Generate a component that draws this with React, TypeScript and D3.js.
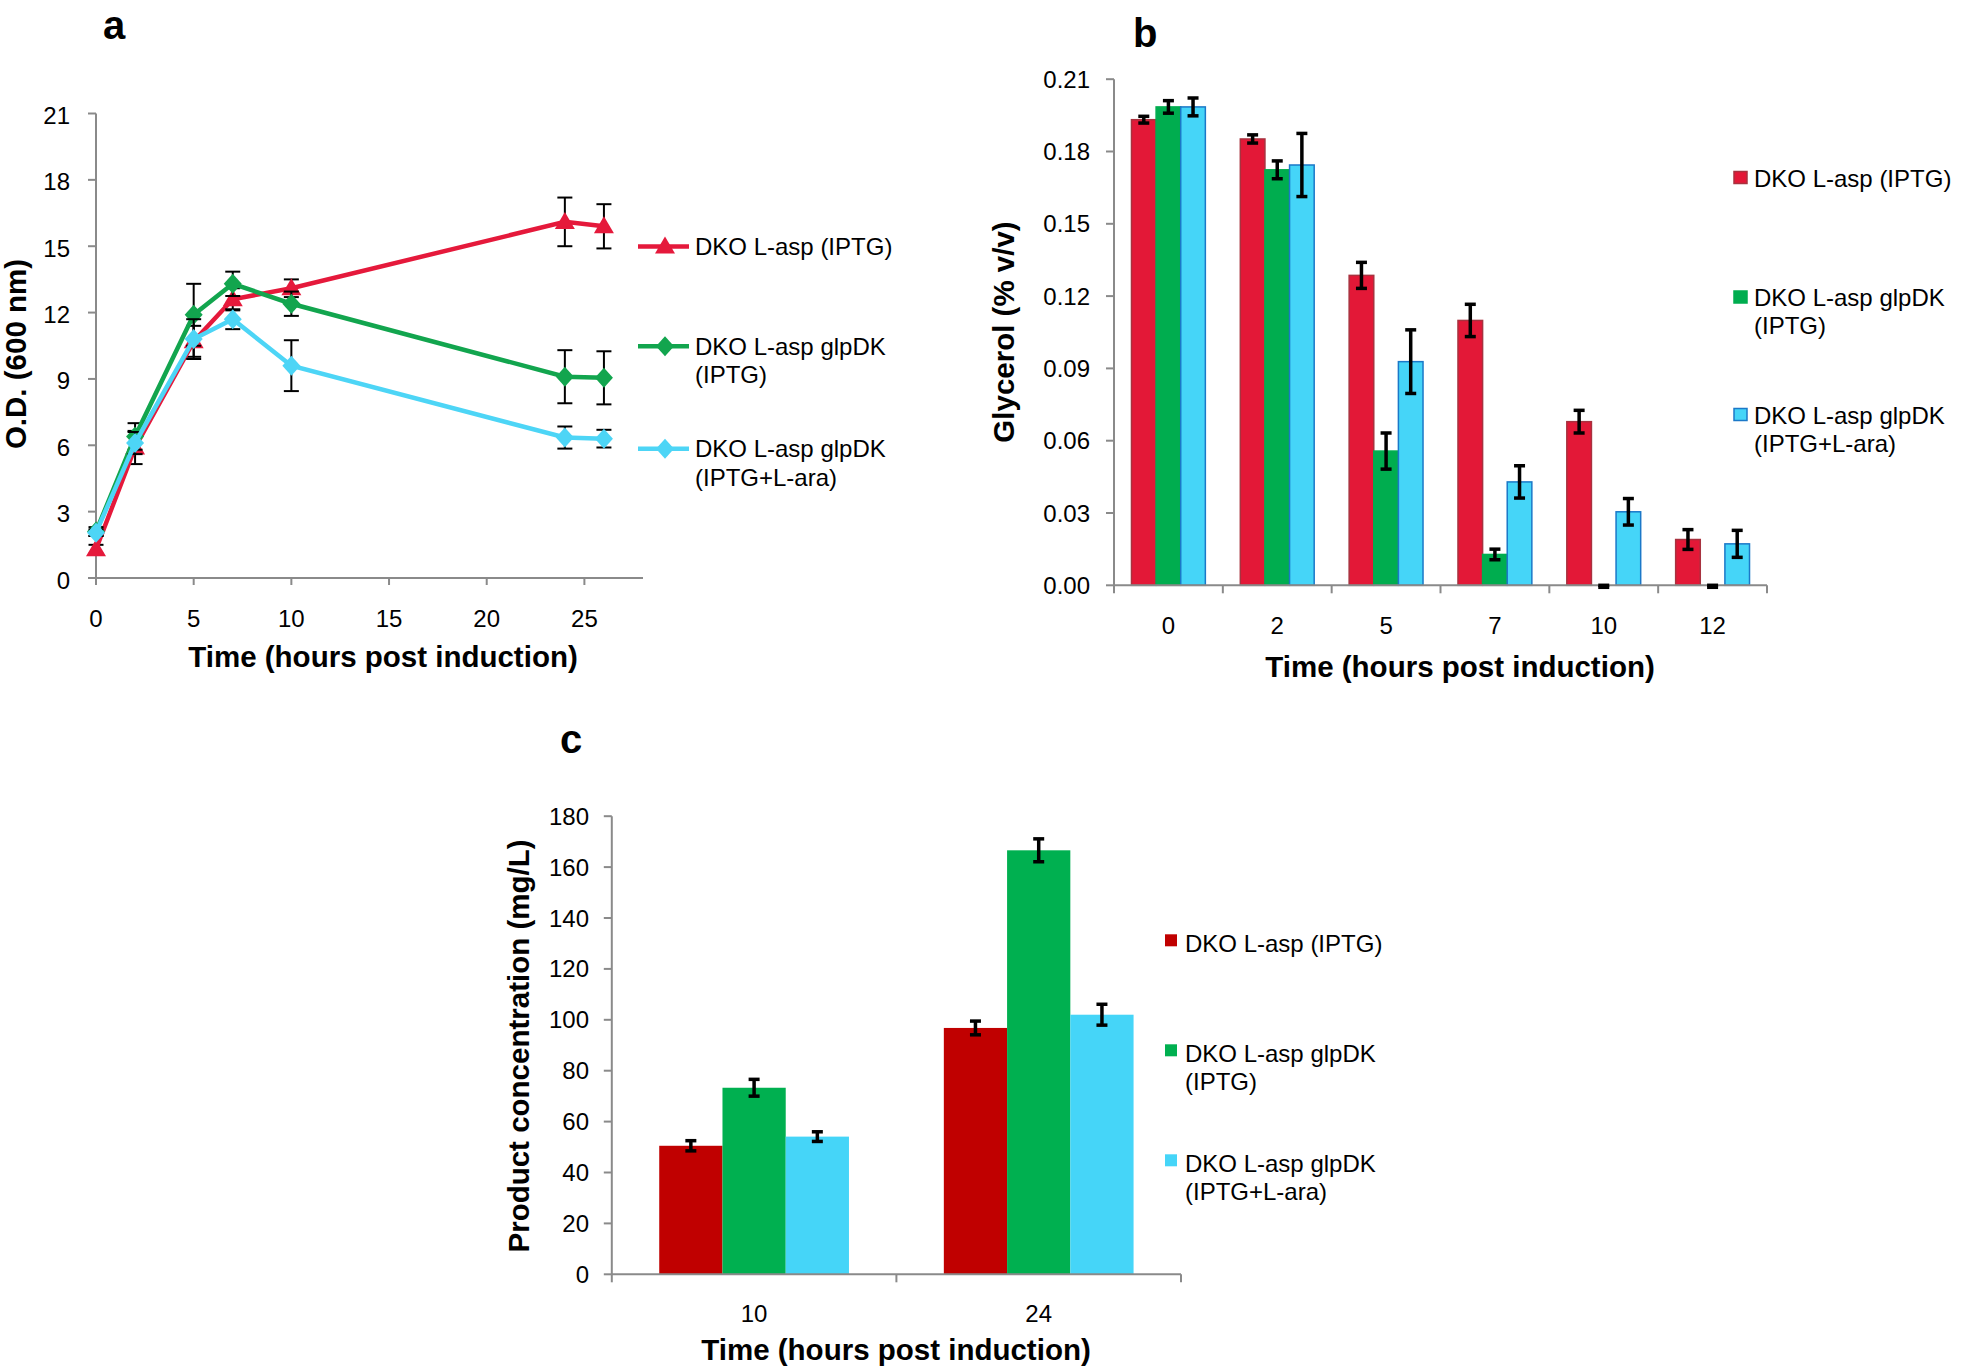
import React from 'react';
import { scaleLinear, scaleBand, line, range } from 'd3';

// ---- data ----
const odHours = [0, 2, 5, 7, 10, 24, 26];
const odRed = [1.3, 5.9, 10.7, 12.6, 13.1, 16.1, 15.9];
const odRedErr = [0.2, 0.75, 0.7, 0.5, 0.4, 1.1, 1.0];
const odGreen = [2.1, 6.4, 11.9, 13.3, 12.4, 9.1, 9.05];
const odGreenErr = [0.2, 0.6, 1.4, 0.55, 0.55, 1.2, 1.2];
const odCyan = [2.05, 6.1, 10.8, 11.7, 9.6, 6.35, 6.3];
const odCyanErr = [0.15, 0.5, 0.9, 0.45, 1.15, 0.5, 0.4];

const glyHours = ['0', '2', '5', '7', '10', '12'];
const glyRed = [0.1932, 0.1852, 0.1286, 0.1099, 0.0679, 0.019];
const glyRedErr = [0.0014, 0.0017, 0.0054, 0.0067, 0.0047, 0.0041];
const glyGreen = [0.1985, 0.1724, 0.0557, 0.0128, 0, 0];
const glyGreenErr = [0.0026, 0.0037, 0.0075, 0.0022, 0, 0];
const glyCyan = [0.1985, 0.1744, 0.0928, 0.0429, 0.0305, 0.0172];
const glyCyanErr = [0.0037, 0.0131, 0.0132, 0.0067, 0.0055, 0.0056];

const prodHours = ['10', '24'];
const prodRed = [50.5, 96.8];
const prodRedErr = [2.0, 2.7];
const prodGreen = [73.3, 166.6];
const prodGreenErr = [3.3, 4.5];
const prodCyan = [54.1, 102];
const prodCyanErr = [1.9, 4.1];

const seriesKeys = ['red', 'green', 'cyan'];
const legendLabels = [
  ['DKO L-asp (IPTG)'],
  ['DKO L-asp glpDK', '(IPTG)'],
  ['DKO L-asp glpDK', '(IPTG+L-ara)'],
];
const odTicksY = range(0, 22, 3);
const odTicksX = range(0, 26, 5);
const glyTicksY = range(0, 0.211, 0.03);
const prodTicksY = range(0, 181, 20);

const font = '"Liberation Sans", Arial, sans-serif';
const axisCol = '#8a8a8a';
const lineCols = ['#e5193b', '#12a54e', '#4dd5f6'];
const barColsB = ['#e31837', '#00ad4f', '#45d5f8'];
const barStrokeB = ['#a8323f', '#00ad4f', '#1b78c8'];
const barColsC = ['#c00000', '#00b050', '#45d5f8'];
const tickFs = 24;
const titleFs = 29.5;

const W = 1961;
const H = 1370;

// ---- panel a scales ----
const xA = scaleLinear().domain([0, 28]).range([96, 643]);
const yA = scaleLinear().domain([0, 21]).range([578, 113.5]);

// ---- panel b scales ----
const xB = scaleBand().domain(glyHours).range([1114, 1767]);
const xBi = scaleBand().domain(seriesKeys).range([0, xB.bandwidth()]).paddingOuter(0.71);
const yB = scaleLinear().domain([0, 0.21]).range([585.3, 79.2]);

// ---- panel c scales ----
const xC = scaleBand().domain(prodHours).range([611.8, 1181]);
const xCi = scaleBand().domain(seriesKeys).range([0, xC.bandwidth()]).paddingOuter(0.75);
const yC = scaleLinear().domain([0, 180]).range([1274.3, 816.2]);

const ErrBar = ({ x, y1, y2, cap, sw }) => (
  <g stroke="#000" strokeWidth={sw}>
    <line x1={x} x2={x} y1={y1} y2={y2} />
    <line x1={x - cap / 2} x2={x + cap / 2} y1={y1} y2={y1} />
    <line x1={x - cap / 2} x2={x + cap / 2} y1={y2} y2={y2} />
  </g>
);

const triangle = (cx, cy) => `M${cx},${cy - 10}L${cx + 10},${cy + 7}L${cx - 10},${cy + 7}Z`;
const diamond = (cx, cy) => `M${cx},${cy - 10}L${cx + 9},${cy}L${cx},${cy + 10}L${cx - 9},${cy}Z`;

const PanelA = () => {
  const series = [
    { v: odRed, e: odRedErr, shape: triangle },
    { v: odGreen, e: odGreenErr, shape: diamond },
    { v: odCyan, e: odCyanErr, shape: diamond },
  ];
  const path = line<number>().x((_, i) => xA(odHours[i])).y(d => yA(d));
  const legendY = [246.4, 346.3, 448.8];
  return (
    <g fontFamily={font}>
      <text x={103} y={39} fontSize={40} fontWeight="bold">a</text>
      {/* axes */}
      <line x1={xA(0)} x2={xA(0)} y1={yA(21)} y2={yA(0)} stroke={axisCol} strokeWidth={2} />
      <line x1={xA(0)} x2={xA(28)} y1={yA(0)} y2={yA(0)} stroke={axisCol} strokeWidth={2} />
      {odTicksY.map(t => (
        <g key={t}>
          <line x1={xA(0) - 8} x2={xA(0)} y1={yA(t)} y2={yA(t)} stroke={axisCol} strokeWidth={2} />
          <text x={70} y={yA(t) + 10.5} fontSize={tickFs} textAnchor="end">{t}</text>
        </g>
      ))}
      {odTicksX.map(t => (
        <g key={t}>
          <line x1={xA(t)} x2={xA(t)} y1={yA(0)} y2={yA(0) + 7} stroke={axisCol} strokeWidth={2} />
          <text x={xA(t)} y={627} fontSize={tickFs} textAnchor="middle">{t}</text>
        </g>
      ))}
      <text x={383} y={667} fontSize={titleFs} fontWeight="bold" textAnchor="middle">Time (hours post induction)</text>
      <text transform="translate(26,354) rotate(-90)" fontSize={titleFs} fontWeight="bold" textAnchor="middle">O.D. (600 nm)</text>
      {/* series */}
      {series.map((s, k) => (
        <g key={k}>
          {s.v.map((d, i) => (
            <ErrBar key={i} x={xA(odHours[i])} y1={yA(d + s.e[i])} y2={yA(d - s.e[i])} cap={15} sw={2} />
          ))}
          <path d={path(s.v)} fill="none" stroke={lineCols[k]} strokeWidth={4.5} />
          {s.v.map((d, i) => (
            <path key={i} d={s.shape(xA(odHours[i]), yA(d))} fill={lineCols[k]} />
          ))}
        </g>
      ))}
      {/* legend */}
      {legendLabels.map((lab, k) => (
        <g key={k}>
          <line x1={638} x2={689} y1={legendY[k]} y2={legendY[k]} stroke={lineCols[k]} strokeWidth={4.5} />
          <path d={series[k].shape(665, legendY[k])} fill={lineCols[k]} />
          <text x={695} y={legendY[k] + 8.5} fontSize={24}>
            {lab.map((t, j) => (
              <tspan key={j} x={695} dy={j === 0 ? 0 : 28.5}>{t}</tspan>
            ))}
          </text>
        </g>
      ))}
    </g>
  );
};

const PanelB = () => {
  const vals = [glyRed, glyGreen, glyCyan];
  const errs = [glyRedErr, glyGreenErr, glyCyanErr];
  const legendY = [178, 297.5, 415];
  const [x0, x1] = xB.range();
  return (
    <g fontFamily={font}>
      <text x={1133} y={47} fontSize={40} fontWeight="bold">b</text>
      {glyHours.map((h, i) => (
        <g key={h}>
          {seriesKeys.map((s, k) => (
            <rect key={s}
              x={xB(h) + xBi(s)} width={xBi.bandwidth()}
              y={yB(vals[k][i])} height={yB(0) - yB(vals[k][i])}
              fill={barColsB[k]} stroke={barStrokeB[k]} strokeWidth={1.5} />
          ))}
        </g>
      ))}
      <line x1={x0} x2={x0} y1={yB(0.21)} y2={yB(0)} stroke={axisCol} strokeWidth={2} />
      <line x1={x0} x2={x1} y1={yB(0)} y2={yB(0)} stroke={axisCol} strokeWidth={2} />
      {glyTicksY.map(t => (
        <g key={t}>
          <line x1={x0 - 8} x2={x0} y1={yB(t)} y2={yB(t)} stroke={axisCol} strokeWidth={2} />
          <text x={1090} y={yB(t) + 8.5} fontSize={tickFs} textAnchor="end">{t.toFixed(2)}</text>
        </g>
      ))}
      {[...glyHours.map(h => xB(h)), x1].map((x, i) => (
        <line key={i} x1={x} x2={x} y1={yB(0)} y2={yB(0) + 8} stroke={axisCol} strokeWidth={2} />
      ))}
      {glyHours.map(h => (
        <text key={h} x={xB(h) + xB.bandwidth() / 2} y={634} fontSize={tickFs} textAnchor="middle">{h}</text>
      ))}
      {glyHours.map((h, i) => (
        <g key={h}>
          {seriesKeys.map((s, k) => (
            <ErrBar key={s} x={xB(h) + xBi(s) + xBi.bandwidth() / 2}
              y1={yB(vals[k][i] + errs[k][i])} y2={yB(vals[k][i] - errs[k][i]) + (errs[k][i] === 0 ? 2 : 0)}
              cap={11} sw={3.5} />
          ))}
        </g>
      ))}
      <text x={1460} y={677} fontSize={titleFs} fontWeight="bold" textAnchor="middle">Time (hours post induction)</text>
      <text transform="translate(1014,332) rotate(-90)" fontSize={titleFs} fontWeight="bold" textAnchor="middle">Glycerol (% v/v)</text>
      {legendLabels.map((lab, k) => (
        <g key={k}>
          <rect x={1734} y={legendY[k] - 6.5} width={13} height={12} fill={barColsB[k]} stroke={barStrokeB[k]} strokeWidth={1.5} />
          <text x={1754} y={legendY[k] + 8.5} fontSize={24}>
            {lab.map((t, j) => (
              <tspan key={j} x={1754} dy={j === 0 ? 0 : 28}>{t}</tspan>
            ))}
          </text>
        </g>
      ))}
    </g>
  );
};

const PanelC = () => {
  const vals = [prodRed, prodGreen, prodCyan];
  const errs = [prodRedErr, prodGreenErr, prodCyanErr];
  const legendY = [943.3, 1053.3, 1163.3];
  const [x0, x1] = xC.range();
  return (
    <g fontFamily={font}>
      <text x={560} y={753} fontSize={40} fontWeight="bold">c</text>
      {prodHours.map((h, i) => (
        <g key={h}>
          {seriesKeys.map((s, k) => (
            <rect key={s}
              x={xC(h) + xCi(s)} width={xCi.bandwidth()}
              y={yC(vals[k][i])} height={yC(0) - yC(vals[k][i])}
              fill={barColsC[k]} />
          ))}
        </g>
      ))}
      <line x1={x0} x2={x0} y1={yC(180)} y2={yC(0)} stroke={axisCol} strokeWidth={2} />
      <line x1={x0} x2={x1} y1={yC(0)} y2={yC(0)} stroke={axisCol} strokeWidth={2} />
      {prodTicksY.map(t => (
        <g key={t}>
          <line x1={x0 - 8} x2={x0} y1={yC(t)} y2={yC(t)} stroke={axisCol} strokeWidth={2} />
          <text x={589} y={yC(t) + 8.5} fontSize={tickFs} textAnchor="end">{t}</text>
        </g>
      ))}
      {[...prodHours.map(h => xC(h)), x1].map((x, i) => (
        <line key={i} x1={x} x2={x} y1={yC(0)} y2={yC(0) + 8} stroke={axisCol} strokeWidth={2} />
      ))}
      {prodHours.map(h => (
        <text key={h} x={xC(h) + xC.bandwidth() / 2} y={1322} fontSize={tickFs} textAnchor="middle">{h}</text>
      ))}
      {prodHours.map((h, i) => (
        <g key={h}>
          {seriesKeys.map((s, k) => (
            <ErrBar key={s} x={xC(h) + xCi(s) + xCi.bandwidth() / 2}
              y1={yC(vals[k][i] + errs[k][i])} y2={yC(vals[k][i] - errs[k][i])}
              cap={11} sw={3.5} />
          ))}
        </g>
      ))}
      <text x={896} y={1360} fontSize={titleFs} fontWeight="bold" textAnchor="middle">Time (hours post induction)</text>
      <text transform="translate(529,1046) rotate(-90)" fontSize={titleFs} fontWeight="bold" textAnchor="middle">Product concentration (mg/L)</text>
      {legendLabels.map((lab, k) => (
        <g key={k}>
          <rect x={1165} y={legendY[k] - 9} width={12} height={12} fill={barColsC[k]} />
          <text x={1185} y={legendY[k] + 8.5} fontSize={24}>
            {lab.map((t, j) => (
              <tspan key={j} x={1185} dy={j === 0 ? 0 : 28.4}>{t}</tspan>
            ))}
          </text>
        </g>
      ))}
    </g>
  );
};

export default function App() {
  return (
    <svg width={W} height={H} style={{ position: 'absolute', left: 0, top: 0, background: '#fff' }}>
      <rect width={W} height={H} fill="#fff" />
      <PanelA />
      <PanelB />
      <PanelC />
    </svg>
  );
}
